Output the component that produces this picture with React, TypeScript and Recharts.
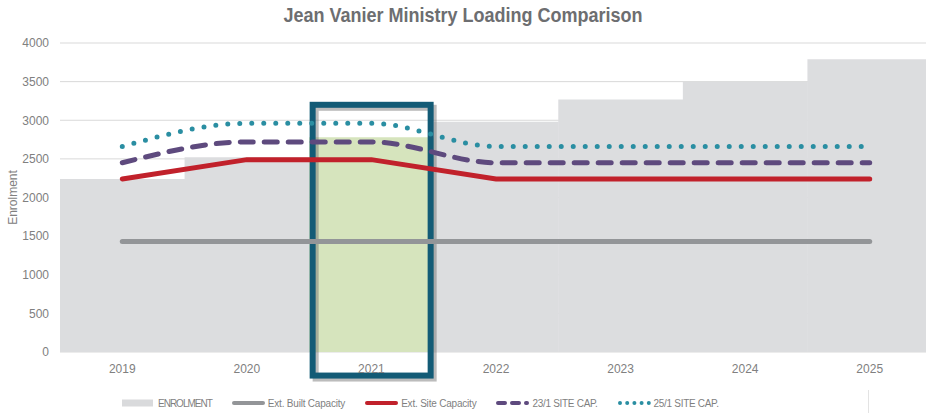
import React from "react";
import {
  ComposedChart,
  Bar,
  Line,
  XAxis,
  YAxis,
  CartesianGrid,
  Legend,
  Cell,
} from "recharts";

const years = ["2019", "2020", "2021", "2022", "2023", "2024", "2025"];
const enrolment = [2240, 2520, 2780, 2980, 3270, 3500, 3790];
const builtCapacity = [1430, 1430, 1430, 1430, 1430, 1430, 1430];
const siteCapacity = [2240, 2490, 2490, 2240, 2240, 2240, 2240];
const siteCap23 = [2450, 2720, 2720, 2450, 2450, 2450, 2450];
const siteCap25 = [2660, 2960, 2960, 2660, 2660, 2660, 2660];
const yTicks = [0, 500, 1000, 1500, 2000, 2500, 3000, 3500, 4000];
const highlightYear = "2021";
// highlight frame spans from this value down to below the axis
const boxTop = 3200;
const boxBottom = -305;

const FONT = '"Liberation Sans Narrow", "Arial Narrow", "Liberation Sans", sans-serif';

const data = years.map((year, i) => ({
  year,
  enrolment: enrolment[i],
  built: builtCapacity[i],
  site: siteCapacity[i],
  cap23: siteCap23[i],
  cap25: siteCap25[i],
  highlight: year === highlightYear ? boxTop : null,
}));

const legendItems = [
  { label: "ENROLMENT", kind: "bar", color: "#d9dadc", spacing: -1 },
  { label: "Ext. Built Capacity", kind: "solid", color: "#939598", spacing: -0.2 },
  { label: "Ext. Site Capacity", kind: "solid", color: "#c1212b", spacing: -0.2 },
  { label: "23/1 SITE CAP.", kind: "dash", color: "#5e4a7e", spacing: -0.3 },
  { label: "25/1 SITE CAP.", kind: "dot", color: "#2a8ea2", spacing: -0.3 },
];

function LegendIcon({ kind, color }: { kind: string; color: string }) {
  return (
    <svg width={33} height={10} style={{ marginRight: 3 }}>
      {kind === "bar" && <rect x={0} y={1.5} width={31} height={7} fill={color} />}
      {kind === "solid" && (
        <line x1={2} y1={5} x2={31} y2={5} stroke={color} strokeWidth={4} strokeLinecap="round" />
      )}
      {kind === "dash" && (
        <line x1={2} y1={5} x2={31} y2={5} stroke={color} strokeWidth={4} strokeLinecap="round" strokeDasharray="7 7" />
      )}
      {kind === "dot" && (
        <line x1={2} y1={5} x2={31} y2={5} stroke={color} strokeWidth={4} strokeLinecap="round" strokeDasharray="0 7.2" />
      )}
    </svg>
  );
}

function renderLegend() {
  return (
    <div
      style={{
        display: "flex",
        alignItems: "center",
        height: 22,
        paddingLeft: 122,
        fontFamily: FONT,
        fontSize: 10,
        color: "#7f7f7f",
      }}
    >
      {legendItems.map((item) => (
        <div key={item.label} style={{ display: "flex", alignItems: "center", marginRight: 20 }}>
          <LegendIcon kind={item.kind} color={item.color} />
          <span style={{ letterSpacing: item.spacing }}>{item.label}</span>
        </div>
      ))}
    </div>
  );
}

function HighlightBox(props: any) {
  const { x, y, width, height, value } = props;
  if (!height || !value) return null;
  const v = Array.isArray(value) ? value[1] : value;
  const extra = (height / v) * -boxBottom;
  const bx = x + 3.5;
  const bw = width - 7;
  const bh = height + extra;
  return (
    <g>
      <rect x={bx + 3} y={y + 3} width={bw} height={bh} fill="none" stroke="#6b6b6b" strokeOpacity={0.45} strokeWidth={6} />
      <rect x={bx} y={y} width={bw} height={bh} fill="none" stroke="#135b76" strokeWidth={6} />
    </g>
  );
}

export default function App() {
  return (
    <div
      style={{
        position: "absolute",
        left: 0,
        top: 0,
        width: 926,
        height: 416,
        overflow: "hidden",
        background: "#fff",
      }}
    >
      <div
        style={{
          position: "absolute",
          top: 4,
          left: 0,
          width: 926,
          textAlign: "center",
          fontFamily: FONT,
          fontWeight: "bold",
          fontSize: 20,
          color: "#6d6e71",
          transform: "scaleX(0.9)",
          transformOrigin: "463px 0",
        }}
      >
        Jean Vanier Ministry Loading Comparison
      </div>
      <div
        style={{
          position: "absolute",
          left: 868,
          top: 390,
          width: 1,
          height: 23,
          background: "#e3e3e3",
        }}
      />
      <ComposedChart
        width={940}
        height={416}
        data={data}
        margin={{ top: 43, right: 8, bottom: 12, left: 8 }}
        barCategoryGap={0}
      >
        <CartesianGrid vertical={false} stroke="#d9d9d9" />
        <XAxis
          dataKey="year"
          axisLine={false}
          tickLine={false}
          height={30}
          tick={{ fontFamily: FONT, fontSize: 12, fill: "#808080" }}
          tickMargin={6}
        />
        <XAxis dataKey="year" xAxisId="hl" hide />
        <YAxis
          width={52}
          domain={[0, 4000]}
          ticks={yTicks}
          axisLine={false}
          tickLine={false}
          tick={{ fontFamily: FONT, fontSize: 12, fill: "#808080" }}
          tickMargin={5}
          label={{
            value: "Enrolment",
            angle: -90,
            position: "insideLeft",
            offset: 0,
            dx: 5,
            style: { fontFamily: FONT, fontSize: 12, fill: "#808080", textAnchor: "middle" },
          }}
        />
        <Bar dataKey="enrolment" fill="#dcdddf" isAnimationActive={false}>
          {data.map((d) => (
            <Cell key={d.year} fill={d.year === highlightYear ? "#d6e4bd" : "#dcdddf"} />
          ))}
        </Bar>
        <Line dataKey="built" type="linear" stroke="#939598" strokeWidth={5} strokeLinecap="round" dot={false} isAnimationActive={false} />
        <Line dataKey="site" type="linear" stroke="#c1212b" strokeWidth={5} strokeLinecap="round" dot={false} isAnimationActive={false} />
        <Line
          dataKey="cap23"
          type="monotone"
          stroke="#5e4a7e"
          strokeWidth={5}
          strokeLinecap="round"
          strokeDasharray="13 11"
          dot={false}
          isAnimationActive={false}
        />
        <Line
          dataKey="cap25"
          type="monotone"
          stroke="#2a8ea2"
          strokeWidth={5}
          strokeLinecap="round"
          strokeDasharray="0 12"
          dot={false}
          isAnimationActive={false}
        />
        <Bar
          dataKey="highlight"
          xAxisId="hl"
          isAnimationActive={false}
          shape={HighlightBox}
          legendType="none"
        />
        <Legend
          verticalAlign="bottom"
          content={renderLegend}
          wrapperStyle={{ left: 0, width: 926, bottom: 2 }}
        />
      </ComposedChart>
    </div>
  );
}
